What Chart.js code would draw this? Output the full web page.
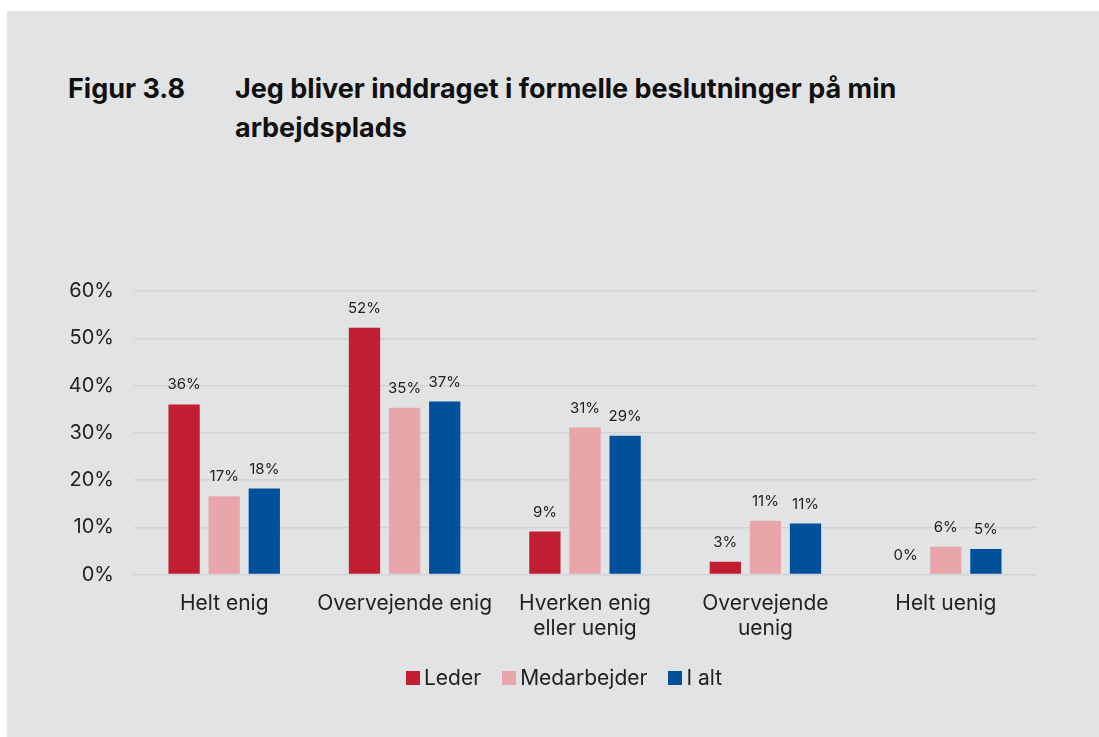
<!DOCTYPE html>
<html>
<head>
<meta charset="utf-8">
<script src="https://cdn.jsdelivr.net/npm/chart.js@4"></script>
<style>
  body { margin: 0; background: #ffffff; width: 1099px; height: 737px; overflow: hidden; position: relative; font-family: Inter, "Noto Sans", sans-serif; }
  #panel { position: absolute; left: 7px; top: 11px; width: 1092px; height: 726px; background: #e2e3e5; }
  .fig { position: absolute; left: 61px; top: 58px; font-size: 27px; font-weight: 700; color: #111; line-height: 39px; }
  .ttl { position: absolute; left: 228px; top: 58px; width: 760px; font-size: 27px; font-weight: 700; color: #111; line-height: 39px; }
  #wrap { position: absolute; left: 0px; top: 248px; width: 1092px; height: 478px; }
  #legend { position: absolute; left: 399px; top: 654px; display: flex; align-items: center; font-size: 21px; color: #222; line-height: 26px; }
  #legend span.box { display: inline-block; width: 14px; height: 14px; margin-right: 4px; }
  #legend span.item { display: flex; align-items: center; margin-right: 21px; }
</style>
</head>
<body>
<div id="panel">
  <div class="fig">Figur 3.8</div>
  <div class="ttl">Jeg bliver inddraget i formelle beslutninger på min<br>arbejdsplads</div>
  <div id="wrap"><canvas id="chart"></canvas></div>
  <div id="legend"></div>
</div>
<script>
const categories = ['Helt enig', 'Overvejende enig', ['Hverken enig', 'eller uenig'], ['Overvejende', 'uenig'], 'Helt uenig'];
const seriesNames = ['Leder', 'Medarbejder', 'I alt'];
const seriesColors = ['#c01f32', '#e8a6ab', '#00509c'];
const leder = [36.0, 52.2, 9.1, 2.7, 0];
const medarbejder = [16.6, 35.3, 31.1, 11.4, 5.9];
const iAlt = [18.2, 36.6, 29.4, 10.8, 5.4];
const yTicks = [0, 10, 20, 30, 40, 50, 60];

// labels over each bar
const barLabels = {
    id: 'barLabels',
    afterDatasetsDraw(chart) {
        const ctx = chart.ctx;
        ctx.save();
        ctx.font = '15px Inter';
        ctx.fillStyle = '#222';
        ctx.textAlign = 'center';
        ctx.textBaseline = 'alphabetic';
        chart.data.datasets.forEach((ds, i) => {
            chart.getDatasetMeta(i).data.forEach((bar, j) => {
                ctx.fillText(Math.round(ds.data[j]) + '%', bar.x, bar.y - 15);
            });
        });
        ctx.restore();
    }
};

const allSeries = [leder, medarbejder, iAlt];

const chart = new Chart(document.getElementById('chart'), {
    type: 'bar',
    data: {
        labels: categories,
        datasets: allSeries.map((d, i) => ({
            label: seriesNames[i], data: d, backgroundColor: seriesColors[i]
        }))
    },
    options: {
        responsive: true,
        maintainAspectRatio: false,
        animation: false,
        categoryPercentage: 0.667,
        barPercentage: 0.78,
        layout: { padding: { top: 8, right: 63, bottom: 88, left: 0 } },
        plugins: {
            legend: { display: false },
            tooltip: { enabled: false }
        },
        scales: {
            x: {
                grid: { display: false },
                border: { display: false },
                ticks: { color: '#222', font: { family: 'Inter', size: 21, lineHeight: 1.2 }, maxRotation: 0, padding: 8 }
            },
            y: {
                min: 0, max: 60,
                afterFit(scale) { scale.width = 127; },
                afterBuildTicks(scale) { scale.ticks = yTicks.map(v => ({ value: v })); },
                grid: { color: '#d2d3d6', lineWidth: 1.5, drawTicks: false },
                border: { display: false },
                ticks: {
                    color: '#222', padding: 20,
                    font: { family: 'Inter', size: 20 },
                    callback: v => v + '%'
                }
            }
        }
    },
    plugins: [barLabels]
});

// html legend, small gap between box and text
const legend = document.getElementById('legend');
seriesNames.forEach((name, i) => {
    const item = document.createElement('span');
    item.className = 'item';
    item.innerHTML = `<span class="box" style="background:${seriesColors[i]}"></span>${name}`;
    legend.appendChild(item);
});
</script>
</body>
</html>
